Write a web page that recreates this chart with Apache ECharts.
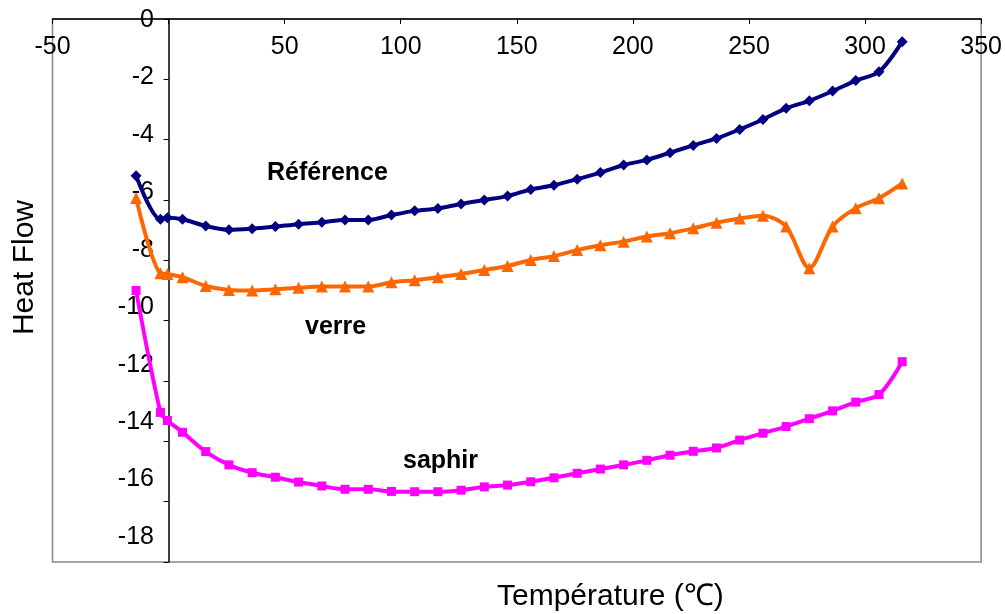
<!DOCTYPE html>
<html>
<head>
<meta charset="utf-8">
<title>Heat Flow</title>
<script src="https://cdn.jsdelivr.net/npm/echarts@6/dist/echarts.min.js"></script>
<style>
  html, body { margin: 0; padding: 0; background: #fff; }
  #chart { width: 1005px; height: 614px; }
</style>
</head>
<body>
<div id="chart"></div>
<script>
// temperatures (°C), same for the three runs
const temps = [-14, -3.5, -0.5, 6, 16, 26, 36, 46, 56, 66, 76, 86, 96, 106, 116, 126, 136, 146,
  156, 166, 176, 186, 196, 206, 216, 226, 236, 246, 256, 266, 276, 286, 296, 306, 316];

const reference = [-5.2, -6.64, -6.59, -6.64, -6.86, -6.99, -6.95, -6.88, -6.8, -6.74, -6.66, -6.66,
  -6.5, -6.36, -6.28, -6.13, -6.0, -5.87, -5.65, -5.51, -5.31, -5.09, -4.84, -4.67, -4.43, -4.19,
  -3.96, -3.66, -3.33, -2.96, -2.71, -2.39, -2.04, -1.75, -0.75];

const verre = [-5.93, -8.43, -8.45, -8.56, -8.85, -8.98, -9.0, -8.96, -8.91, -8.87, -8.87, -8.87,
  -8.73, -8.66, -8.56, -8.45, -8.32, -8.19, -7.99, -7.86, -7.66, -7.5, -7.38, -7.21, -7.1, -6.94,
  -6.75, -6.61, -6.52, -6.88, -8.26, -6.88, -6.27, -5.94, -5.45];

const saphir = [-9.0, -13.04, -13.31, -13.7, -14.34, -14.78, -15.04, -15.19, -15.35, -15.48, -15.59,
  -15.59, -15.66, -15.67, -15.67, -15.62, -15.51, -15.45, -15.34, -15.21, -15.06, -14.92, -14.78,
  -14.63, -14.46, -14.33, -14.22, -13.96, -13.73, -13.51, -13.25, -12.99, -12.7, -12.45, -11.36];

const pairs = (ys) => temps.map((t, i) => [t, ys[i]]);

const font = "Liberation Sans, Arial, Helvetica, sans-serif";

const chart = echarts.init(document.getElementById("chart"), null, { renderer: "canvas" });

function line(name, ys, color, symbol, size) {
  return {
    name: name,
    type: "line",
    xAxisIndex: 0,
    yAxisIndex: 0,
    data: pairs(ys),
    smooth: 0.3,
    symbol: symbol,
    symbolSize: size,
    showAllSymbol: true,
    lineStyle: { color: color, width: 4 },
    itemStyle: { color: color },
    z: 3
  };
}

const option = {
  animation: false,
  backgroundColor: "#fff",
  grid: [
    // plot area
    { left: 52.5, right: 17.5, top: 19, bottom: 52, show: true, borderColor: "#888", borderWidth: 1.5 },
    // carries only the y tick labels (they sit slightly tighter than the ticks)
    { left: 170, width: 100, top: 20, height: 517, show: false }
  ],
  xAxis: [
    {
      type: "value",
      gridIndex: 0,
      position: "top",
      min: -50,
      max: 350,
      interval: 50,
      axisLine: { show: true, onZero: false, lineStyle: { color: "#000", width: 1.5 } },
      axisTick: { show: true, inside: true, length: 5, lineStyle: { color: "#000" } },
      axisLabel: {
        show: true,
        inside: true,
        margin: 16,
        fontFamily: font,
        fontSize: 25,
        color: "#000",
        formatter: (v) => (v === 0 ? "" : String(v))
      },
      splitLine: { show: false }
    },
    {
      type: "value",
      gridIndex: 1,
      min: 0,
      max: 1,
      show: false
    }
  ],
  yAxis: [
    {
      type: "value",
      gridIndex: 0,
      min: -18,
      max: 0,
      interval: 2,
      axisLine: { show: true, onZero: true, lineStyle: { color: "#000", width: 1.5 } },
      axisTick: { show: true, inside: false, length: 5, lineStyle: { color: "#000" } },
      axisLabel: { show: false },
      splitLine: { show: false }
    },
    {
      type: "value",
      gridIndex: 1,
      min: -18,
      max: 0,
      interval: 2,
      position: "left",
      axisLine: { show: false },
      axisTick: { show: false },
      splitLine: { show: false },
      axisLabel: {
        show: true,
        margin: 16,
        fontFamily: font,
        fontSize: 25,
        color: "#000",
        showMinLabel: true,
        showMaxLabel: true
      }
    }
  ],
  series: [
    line("Référence", reference, "#000080", "diamond", 11),
    line("verre", verre, "#ff6600", "triangle", 12),
    line("saphir", saphir, "#ff00ff", "rect", 9)
  ],
  graphic: [
    {
      type: "text",
      left: 267,
      top: 161,
      style: { text: "Référence", font: "bold 25px " + font, fill: "#000" }
    },
    {
      type: "text",
      left: 305,
      top: 315,
      style: { text: "verre", font: "bold 25px " + font, fill: "#000" }
    },
    {
      type: "text",
      left: 403,
      top: 449,
      style: { text: "saphir", font: "bold 25px " + font, fill: "#000" }
    },
    {
      type: "text",
      left: 497,
      top: 582,
      style: { text: "Température (℃)", font: "30px " + font, fill: "#000" }
    },
    {
      type: "text",
      left: 10,
      top: 200,
      rotation: Math.PI / 2,
      style: { text: "Heat Flow", font: "30px " + font, fill: "#000" }
    }
  ]
};

chart.setOption(option);
</script>
</body>
</html>
